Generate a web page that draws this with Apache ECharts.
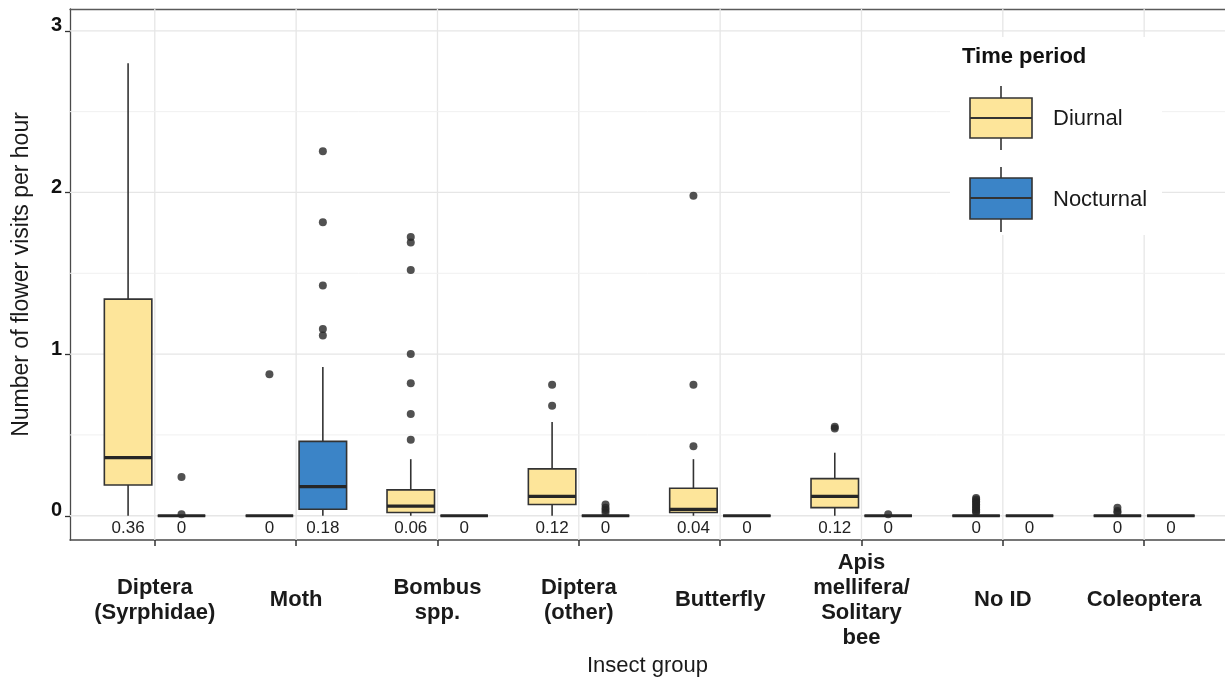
<!DOCTYPE html>
<html>
<head>
<meta charset="utf-8">
<title>Flower visits per hour by insect group</title>
<script src="https://cdn.jsdelivr.net/npm/echarts@6/dist/echarts.min.js"></script>
<style>
html, body { margin: 0; padding: 0; background: #fff; }
#chart { width: 1225px; height: 677px; }
</style>
</head>
<body>
<div id="chart"></div>
<script>
// insect groups, positions on the x axis are 1..8
const categories = [
    "Diptera\n(Syrphidae)", "Moth", "Bombus\nspp.", "Diptera\n(other)",
    "Butterfly", "Apis\nmellifera/\nSolitary\nbee", "No ID", "Coleoptera"
];
const categoryPos = [1, 2, 3, 4, 5, 6, 7, 8];

// [min, q1, median, q3, max] per group
const diurnalBoxes = [
    [0, 0.19, 0.36, 1.34, 2.80],
    [0, 0, 0, 0, 0],
    [0, 0.02, 0.06, 0.16, 0.35],
    [0, 0.07, 0.12, 0.29, 0.58],
    [0, 0.02, 0.04, 0.17, 0.35],
    [0, 0.05, 0.12, 0.23, 0.39],
    [0, 0, 0, 0, 0],
    [0, 0, 0, 0, 0]
];
const nocturnalBoxes = [
    [0, 0, 0, 0, 0],
    [0, 0.04, 0.18, 0.46, 0.92],
    [0, 0, 0, 0, 0],
    [0, 0, 0, 0, 0],
    [0, 0, 0, 0, 0],
    [0, 0, 0, 0, 0],
    [0, 0, 0, 0, 0],
    [0, 0, 0, 0, 0]
];

// outlier points per group
const diurnalOutliers = [
    [],
    [0.875],
    [1.725, 1.69, 1.52, 1.0, 0.82, 0.63, 0.47],
    [0.81, 0.68],
    [1.98, 0.81, 0.43],
    [0.55, 0.54],
    [0.11, 0.10, 0.09, 0.08, 0.07, 0.06, 0.05, 0.04, 0.03, 0.02],
    [0.05, 0.03, 0.02]
];
const nocturnalOutliers = [
    [0.24, 0.01],
    [2.255, 1.815, 1.425, 1.155, 1.115],
    [],
    [0.07, 0.05, 0.035, 0.02],
    [],
    [0.01],
    [],
    []
];

const yTicks = [0, 1, 2, 3];
const yMinorTicks = [0.5, 1.5, 2.5];

const FONT = "'Liberation Sans', Arial, sans-serif";
const DIURNAL_COLOR = "#FDE59A";
const NOCTURNAL_COLOR = "#3B84C7";
const DODGE = 0.189;
const HALF = 0.168;
const X_MIN = 0.4;
const X_MAX = 8.572; // panel runs a little past the right edge of the picture

const chart = echarts.init(document.getElementById("chart"));

function boxData(stats, side) {
    return stats.map((s, i) => [categoryPos[i], side, ...s]);
}

function outlierData(list, side) {
    const out = [];
    list.forEach((vals, i) => vals.forEach(v => out.push([categoryPos[i] + side * DODGE, v])));
    return out;
}

function gridData() {
    return [
        ...categoryPos.map(v => [v, 0]),
        ...yTicks.map(v => [v, 1]),
        ...yMinorTicks.map(v => [v, 2])
    ];
}

function renderGrid(params, api) {
    const cs = params.coordSys;
    const v = api.value(0);
    const kind = api.value(1);
    if (kind === 0) {
        const x = api.coord([v, 0])[0];
        return {type: "line", shape: {x1: x, y1: cs.y, x2: x, y2: cs.y + cs.height},
            style: {stroke: "#E6E6E6", lineWidth: 1.3}};
    }
    const y = api.coord([1, v])[1];
    return {type: "line", shape: {x1: cs.x, y1: y, x2: cs.x + cs.width, y2: y},
        style: {stroke: kind === 1 ? "#E6E6E6" : "#F0F0F0", lineWidth: kind === 1 ? 1.3 : 1}};
}

function renderBox(params, api) {
    const cx = api.value(0) + api.value(1) * DODGE;
    const min = api.value(2), q1 = api.value(3), med = api.value(4), q3 = api.value(5), max = api.value(6);
    const tl = api.coord([cx - HALF, q3]);
    const br = api.coord([cx + HALF, q1]);
    const mid = api.coord([cx, med]);
    const top = api.coord([cx, max]);
    const bot = api.coord([cx, min]);
    const zero = api.coord([cx, 0]);
    const fill = api.visual("color");
    const children = [];
    if (max > q3) {
        children.push({type: "line", shape: {x1: mid[0], y1: tl[1], x2: mid[0], y2: top[1]},
            style: {stroke: "#333", lineWidth: 1.6}});
    }
    if (q1 > min) {
        children.push({type: "line", shape: {x1: mid[0], y1: br[1], x2: mid[0], y2: bot[1]},
            style: {stroke: "#333", lineWidth: 1.6}});
    }
    children.push({type: "rect", shape: {x: tl[0], y: tl[1], width: br[0] - tl[0], height: br[1] - tl[1]},
        style: {fill: fill, stroke: "#333", lineWidth: 1.6}});
    children.push({type: "line", shape: {x1: tl[0], y1: mid[1], x2: br[0], y2: mid[1]},
        style: {stroke: "#262626", lineWidth: 3.2}});
    children.push({type: "text", x: zero[0], y: zero[1] + 13,
        style: {text: String(med), fontSize: 17, fontFamily: FONT, fill: "#222",
            align: "center", verticalAlign: "middle"}});
    return {type: "group", children};
}

chart.setOption({
    animation: false,
    textStyle: {fontFamily: FONT},
    grid: {left: 70, top: 9, right: 0, bottom: 137, outerBoundsMode: "none"},
    xAxis: [{
        type: "value",
        position: "bottom",
        min: X_MIN,
        max: X_MAX,
        name: "Insect group",
        nameLocation: "middle",
        nameGap: 107,
        nameTextStyle: {fontSize: 22, color: "#1a1a1a", fontFamily: FONT},
        axisLine: {show: true, onZero: false, lineStyle: {color: "#4a4a4a", width: 1.5}},
        axisTick: {show: true, customValues: categoryPos, length: 6, lineStyle: {color: "#333", width: 1.5}},
        axisLabel: {
            customValues: categoryPos,
            formatter: v => categories[Math.round(v) - 1],
            fontSize: 22,
            fontWeight: "bold",
            lineHeight: 25,
            color: "#1a1a1a",
            fontFamily: FONT,
            verticalAlign: "middle",
            margin: 60
        },
        splitLine: {show: false}
    }, {
        // top edge of the panel border
        type: "value",
        position: "top",
        min: X_MIN,
        max: X_MAX,
        axisLine: {show: true, onZero: false, lineStyle: {color: "#5a5a5a", width: 1.3}},
        axisTick: {show: false},
        axisLabel: {show: false},
        splitLine: {show: false}
    }],
    yAxis: {
        type: "value",
        min: -0.15,
        max: 3.135,
        name: "Number of flower visits per hour",
        nameLocation: "middle",
        nameRotate: 90,
        nameGap: 37,
        nameTextStyle: {fontSize: 23, color: "#1a1a1a", fontFamily: FONT},
        axisLine: {show: true, onZero: false, lineStyle: {color: "#4a4a4a", width: 1.3}},
        axisTick: {show: true, customValues: yTicks, length: 5, lineStyle: {color: "#333", width: 1.3}},
        axisLabel: {
            customValues: yTicks,
            fontSize: 20,
            fontWeight: "bold",
            color: "#111",
            fontFamily: FONT,
            margin: 8,
            verticalAlign: "bottom",
            lineHeight: 10
        },
        splitLine: {show: false}
    },
    series: [
        {
            name: "grid",
            type: "custom",
            silent: true,
            z: 1,
            renderItem: renderGrid,
            data: gridData()
        },
        {
            name: "Diurnal",
            type: "custom",
            z: 3,
            itemStyle: {color: DIURNAL_COLOR},
            renderItem: renderBox,
            data: boxData(diurnalBoxes, -1)
        },
        {
            name: "Nocturnal",
            type: "custom",
            z: 3,
            itemStyle: {color: NOCTURNAL_COLOR},
            renderItem: renderBox,
            data: boxData(nocturnalBoxes, 1)
        },
        {
            name: "Diurnal outliers",
            type: "scatter",
            z: 4,
            symbolSize: 8,
            itemStyle: {color: "#262626"},
            data: outlierData(diurnalOutliers, -1)
        },
        {
            name: "Nocturnal outliers",
            type: "scatter",
            z: 4,
            symbolSize: 8,
            itemStyle: {color: "#262626"},
            data: outlierData(nocturnalOutliers, 1)
        }
    ],
    graphic: [{
        type: "group",
        z: 100,
        children: [
            {type: "rect", z: 100, shape: {x: 950, y: 37, width: 212, height: 198}, style: {fill: "#fff"}},
            {type: "text", z: 101, x: 962, y: 57,
                style: {text: "Time period", fontSize: 22, fontWeight: "bold", fontFamily: FONT, fill: "#111", verticalAlign: "middle"}},
            {type: "line", z: 101, shape: {x1: 1001, y1: 86, x2: 1001, y2: 150}, style: {stroke: "#333", lineWidth: 1.6}},
            {type: "rect", z: 102, shape: {x: 970, y: 98, width: 62, height: 40}, style: {fill: DIURNAL_COLOR, stroke: "#333", lineWidth: 1.6}},
            {type: "line", z: 103, shape: {x1: 970, y1: 118, x2: 1032, y2: 118}, style: {stroke: "#333", lineWidth: 1.8}},
            {type: "text", z: 101, x: 1053, y: 119,
                style: {text: "Diurnal", fontSize: 22, fontFamily: FONT, fill: "#1a1a1a", verticalAlign: "middle"}},
            {type: "line", z: 101, shape: {x1: 1001, y1: 167, x2: 1001, y2: 232}, style: {stroke: "#333", lineWidth: 1.6}},
            {type: "rect", z: 102, shape: {x: 970, y: 178, width: 62, height: 41}, style: {fill: NOCTURNAL_COLOR, stroke: "#333", lineWidth: 1.6}},
            {type: "line", z: 103, shape: {x1: 970, y1: 198, x2: 1032, y2: 198}, style: {stroke: "#333", lineWidth: 1.8}},
            {type: "text", z: 101, x: 1053, y: 200,
                style: {text: "Nocturnal", fontSize: 22, fontFamily: FONT, fill: "#1a1a1a", verticalAlign: "middle"}}
        ]
    }]
});

window.addEventListener("resize", () => chart.resize());
</script>
</body>
</html>
